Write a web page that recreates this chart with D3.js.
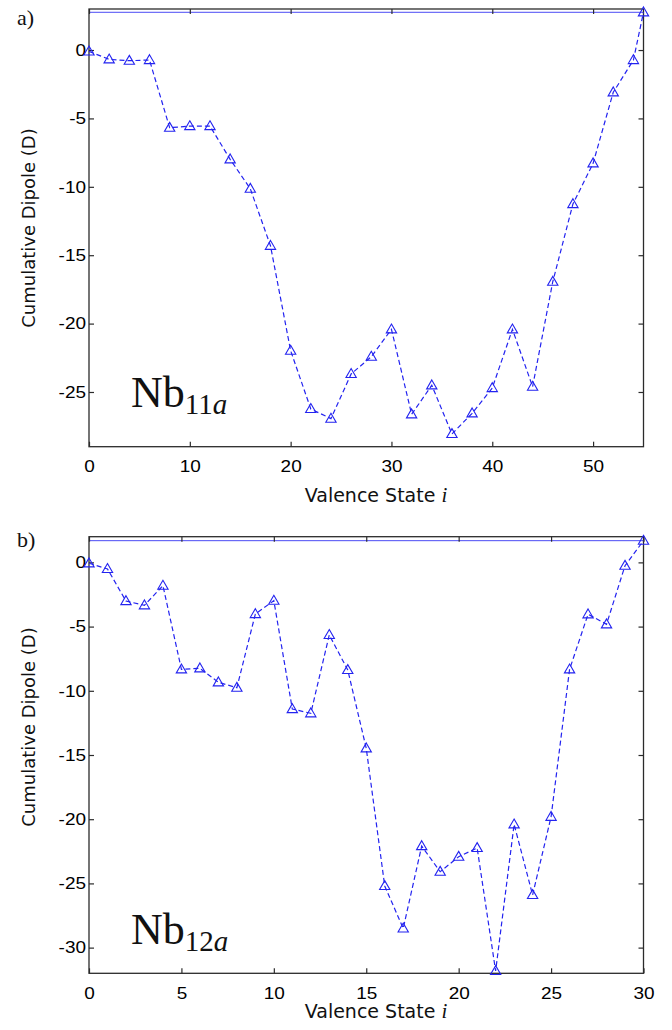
<!DOCTYPE html>
<html>
<head>
<meta charset="utf-8">
<script src="https://cdn.jsdelivr.net/npm/d3@7"></script>
<style>
  body { margin: 0; background: #fff; }
  svg { display: block; }
</style>
</head>
<body>
<svg id="chart" width="672" height="1030"></svg>
<script>
// panel a) Nb11a, states go up by 2 and end at 55
var statesA = [0, 2, 4, 6, 8, 10, 12, 14, 16, 18, 20, 22, 24, 26, 28, 30, 32, 34, 36, 38, 40, 42, 44, 46, 48, 50, 52, 54, 55];
var dipoleA = [-0.1, -0.68, -0.78, -0.73, -5.68, -5.56, -5.56, -7.99, -10.14, -14.31, -21.98, -26.24, -26.95, -23.68, -22.42, -20.42,
  -26.63, -24.51, -28.07, -26.56, -24.71, -20.42, -24.61, -16.94, -11.26, -8.28, -3.09, -0.73, 2.76];
var xTicksA = [0, 10, 20, 30, 40, 50];
var yTicksA = [0, -5, -10, -15, -20, -25];

// panel b) Nb12a
var statesB = [0, 1, 2, 3, 4, 5, 6, 7, 8, 9, 10, 11, 12, 13, 14, 15, 16, 17, 18, 19, 20, 21, 22, 23, 24, 25, 26, 27, 28, 29, 30];
var dipoleB = [-0.07, -0.51, -3.01, -3.34, -1.81, -8.33, -8.25, -9.34, -9.76, -4.02, -2.98, -11.42, -11.75, -5.65, -8.38, -14.48,
  -25.2, -28.5, -22.09, -24.09, -22.92, -22.24, -31.82, -20.4, -25.9, -19.81, -8.33, -4.04, -4.82, -0.26, 1.69];
var xTicksB = [0, 5, 10, 15, 20, 25, 30];
var yTicksB = [0, -5, -10, -15, -20, -25, -30];

var blue = "#2323f0";
var axisColor = "#2b2b2b";
var svg = d3.select("#chart");

function drawPanel(p) {
  var x = d3.scaleLinear().domain(p.xDomain).range([p.left, p.right]);
  var y = d3.scaleLinear().domain(p.yDomain).range([p.bottom, p.top]);
  var g = svg.append("g");
  var plain = function (d) { return String(d); }; // hyphen minus like matlab

  // line at the final value, across the whole axis
  var last = p.values[p.values.length - 1];
  g.append("line")
    .attr("x1", p.left).attr("x2", p.right)
    .attr("y1", y(last)).attr("y2", y(last))
    .attr("stroke", "#4a4af5").attr("stroke-width", 1);

  // inward ticks on all four sides
  var bottomAx = g.append("g").attr("transform", "translate(0," + p.bottom + ")")
    .call(d3.axisBottom(x).tickValues(p.xTicks).tickFormat(plain).tickSizeInner(-5).tickSizeOuter(0).tickPadding(13.8));
  var leftAx = g.append("g").attr("transform", "translate(" + p.left + ",0)")
    .call(d3.axisLeft(y).tickValues(p.yTicks).tickFormat(plain).tickSizeInner(-5).tickSizeOuter(0).tickPadding(2.6));
  var topAx = g.append("g").attr("transform", "translate(0," + p.top + ")")
    .call(d3.axisTop(x).tickValues(p.xTicks).tickSizeInner(-5).tickSizeOuter(0).tickFormat(""));
  var rightAx = g.append("g").attr("transform", "translate(" + p.right + ",0)")
    .call(d3.axisRight(y).tickValues(p.yTicks).tickSizeInner(-5).tickSizeOuter(0).tickFormat(""));

  [bottomAx, leftAx, topAx, rightAx].forEach(function (a) {
    a.select(".domain").remove();
    a.selectAll("line").attr("stroke", axisColor).attr("stroke-width", 1.2);
    a.selectAll("text")
      .attr("fill", "#000")
      .style("font-family", "'Liberation Sans', Arial, sans-serif")
      .style("font-size", "16.5px")
      .attr("transform", "scale(1.15,1)");
  });

  g.append("rect")
    .attr("x", p.left).attr("y", p.top)
    .attr("width", p.right - p.left).attr("height", p.bottom - p.top)
    .attr("fill", "none").attr("stroke", axisColor).attr("stroke-width", 1.3);

  var pts = p.states.map(function (s, i) { return [s, p.values[i]]; });
  var line = d3.line().x(function (d) { return x(d[0]); }).y(function (d) { return y(d[1]); });

  g.append("path")
    .datum(pts)
    .attr("d", line)
    .attr("fill", "none")
    .attr("stroke", blue)
    .attr("stroke-width", 1.2)
    .attr("stroke-dasharray", "5,3");

  g.selectAll(".mark")
    .data(pts)
    .enter()
    .append("path")
    .attr("class", "mark")
    .attr("d", d3.symbol(d3.symbolTriangle, 46))
    .attr("transform", function (d) { return "translate(" + x(d[0]) + "," + (y(d[1]) + 0.6) + ")"; })
    .attr("fill", "none")
    .attr("stroke", blue)
    .attr("stroke-width", 1.1);

  // axis titles
  var xl = g.append("text")
    .attr("x", 376).attr("y", p.xLabelY)
    .attr("text-anchor", "middle")
    .style("font-family", "'DejaVu Sans', sans-serif")
    .style("font-size", "19px")
    .attr("fill", "#111")
    .text("Valence State ");
  xl.append("tspan")
    .style("font-family", "'Liberation Serif', serif")
    .style("font-style", "italic")
    .style("font-size", "21px")
    .text("i");

  g.append("text")
    .attr("transform", "translate(35," + p.yLabelMid + ") rotate(-90)")
    .attr("text-anchor", "middle")
    .style("font-family", "'DejaVu Sans', sans-serif")
    .style("font-size", "18px")
    .attr("fill", "#111")
    .text("Cumulative Dipole (D)");

  // panel letter
  g.append("text")
    .attr("x", 17).attr("y", p.letterY)
    .style("font-family", "'Liberation Serif', serif")
    .style("font-size", "22px")
    .attr("fill", "#111")
    .text(p.letter);

  // compound name
  var nb = g.append("text")
    .attr("x", 131).attr("y", p.nameY)
    .style("font-family", "'Liberation Serif', serif")
    .style("font-size", "44px")
    .attr("fill", "#111")
    .text("Nb");
  nb.append("tspan").attr("dy", 7).style("font-size", "29px").text(p.sub);
  nb.append("tspan").style("font-size", "29px").style("font-style", "italic").text("a");
}

drawPanel({
  states: statesA, values: dipoleA, xTicks: xTicksA, yTicks: yTicksA,
  xDomain: [0, 55], yDomain: [-29, 3],
  left: 89, right: 643.5, top: 9, bottom: 446.7,
  yLabelMid: 228, xLabelY: 501.5, letter: "a)", letterY: 25, nameY: 407, sub: "11"
});

drawPanel({
  states: statesB, values: dipoleB, xTicks: xTicksB, yTicks: yTicksB,
  xDomain: [0, 30], yDomain: [-32, 2],
  left: 89, right: 643.5, top: 536.7, bottom: 973.3,
  yLabelMid: 727, xLabelY: 1018, letter: "b)", letterY: 547, nameY: 943.5, sub: "12"
});
</script>
</body>
</html>
